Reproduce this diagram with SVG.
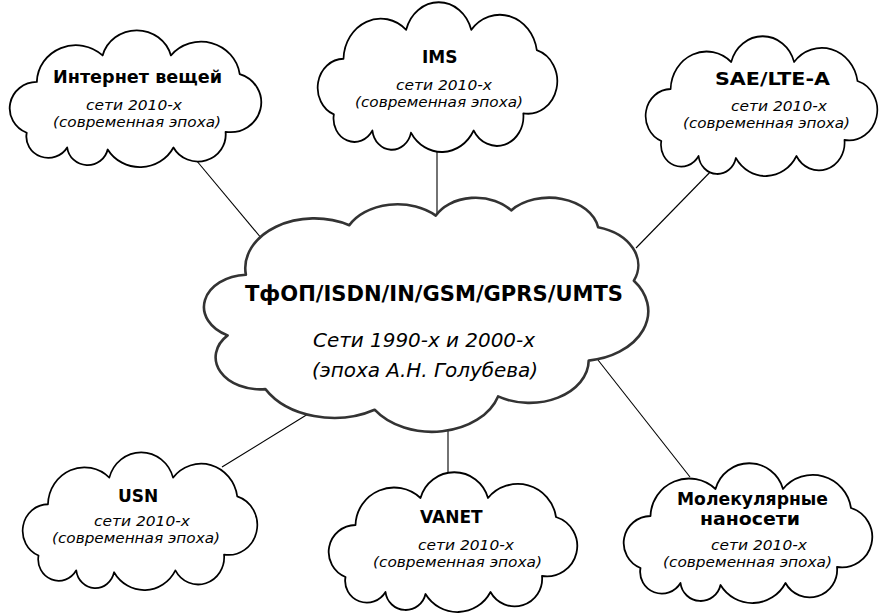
<svg xmlns="http://www.w3.org/2000/svg" xmlns:xlink="http://www.w3.org/1999/xlink" width="879" height="614" viewBox="0 0 879 614">
<style>
.bg{fill:#fff}
.cl{fill:#fff;stroke:#000;stroke-width:1.8;stroke-linejoin:round}
.big{fill:#fff;stroke:#333;stroke-width:2.6;stroke-linejoin:round}
.conn line{stroke:#000;stroke-width:1.1}
.t{font-family:"DejaVu Sans",Verdana,sans-serif;font-weight:bold;font-size:17px;fill:#000}
.s{font-family:"DejaVu Sans",Verdana,sans-serif;font-style:italic;font-size:13.5px;fill:#000}
.tb{font-family:"DejaVu Sans",Verdana,sans-serif;font-weight:bold;font-size:21px;fill:#000}
.sb{font-family:"DejaVu Sans",Verdana,sans-serif;font-style:italic;font-size:19px;fill:#000}
</style>
<defs>
<path id="cloud" d="M17.5,105 A27,27 0 0 1 27.5,53 A38.6,38.6 0 0 1 92.5,26 A35,35 0 0 1 160,26 A38.6,38.6 0 0 1 228,45 A30.4,30.4 0 0 1 214,104 A27.5,27.5 0 0 1 162.5,120 A37.3,37.3 0 0 1 97.5,122 A20.3,20.3 0 0 1 57.5,120 A21.7,21.7 0 0 1 17.5,105 Z"/>
</defs>
<rect class="bg" x="0" y="0" width="879" height="614"/>
<g id="connectors" class="conn">
<line x1="196" y1="160" x2="262" y2="239"/>
<line x1="437" y1="145" x2="437" y2="216"/>
<line x1="716" y1="166" x2="636" y2="248"/>
<line x1="222" y1="467" x2="308" y2="414"/>
<line x1="448" y1="428" x2="448" y2="476"/>
<line x1="598" y1="360" x2="690" y2="477"/>
</g>
<g id="center">
<path class="big" d="M245.9,274.8 A69.08,49.77 0 0 1 349.3,225.2 A54.54,39.36 0 0 1 435.8,215.6 A44.64,32.2 0 0 1 511.2,210.4 A49.68,35.73 0 0 1 598.1,227.2 A54.54,39.41 0 0 1 633.9,280.7 A69.31,49.94 0 0 1 588.7,360.6 A59.18,42.61 0 0 1 498.1,396.4 A69.08,49.91 0 0 1 374.6,409.7 A78.99,57.12 0 0 1 265.4,389.1 A44.6,32.06 0 0 1 227.6,335.4 A44.47,32.2 0 0 1 245.9,274.8 Z"/>
<text class="tb" x="245" y="301" textLength="378" lengthAdjust="spacingAndGlyphs">ТфОП/ISDN/IN/GSM/GPRS/UMTS</text>
<text class="sb" x="313" y="347" textLength="222" lengthAdjust="spacingAndGlyphs">Сети 1990-х и 2000-х</text>
<text class="sb" x="312" y="377" textLength="226" lengthAdjust="spacingAndGlyphs">(эпоха А.Н. Голубева)</text>
</g>
<g id="iot">
<use xlink:href="#cloud" class="cl" transform="translate(9,30) scale(1.012,0.979)"/>
<text class="t" x="53" y="83" textLength="169" lengthAdjust="spacingAndGlyphs">Интернет вещей</text>
<text class="s" x="86" y="110" textLength="96" lengthAdjust="spacingAndGlyphs">сети 2010-х</text>
<text class="s" x="53" y="127" textLength="168" lengthAdjust="spacingAndGlyphs">(современная эпоха)</text>
</g>
<g id="ims">
<use xlink:href="#cloud" class="cl" transform="translate(317,2) scale(0.964,1.071)"/>
<text class="t" x="422" y="63">IMS</text>
<text class="s" x="396" y="90" textLength="96" lengthAdjust="spacingAndGlyphs">сети 2010-х</text>
<text class="s" x="355" y="107" textLength="168" lengthAdjust="spacingAndGlyphs">(современная эпоха)</text>
</g>
<g id="sae">
<use xlink:href="#cloud" class="cl" transform="translate(645,36) scale(0.932,1.0)"/>
<text class="t" x="715" y="85" textLength="115" lengthAdjust="spacingAndGlyphs">SAE/LTE-A</text>
<text class="s" x="731" y="111" textLength="96" lengthAdjust="spacingAndGlyphs">сети 2010-х</text>
<text class="s" x="683" y="128" textLength="167" lengthAdjust="spacingAndGlyphs">(современная эпоха)</text>
</g>
<g id="usn">
<use xlink:href="#cloud" class="cl" transform="translate(22,452) scale(0.944,0.986)"/>
<text class="t" x="118" y="502">USN</text>
<text class="s" x="94" y="526" textLength="96" lengthAdjust="spacingAndGlyphs">сети 2010-х</text>
<text class="s" x="52" y="543" textLength="168" lengthAdjust="spacingAndGlyphs">(современная эпоха)</text>
</g>
<g id="vanet">
<use xlink:href="#cloud" class="cl" transform="translate(328,472)"/>
<text class="t" x="420" y="523">VANET</text>
<text class="s" x="418" y="550" textLength="96" lengthAdjust="spacingAndGlyphs">сети 2010-х</text>
<text class="s" x="373" y="567" textLength="169" lengthAdjust="spacingAndGlyphs">(современная эпоха)</text>
</g>
<g id="nano">
<use xlink:href="#cloud" class="cl" transform="translate(623,463)"/>
<text class="t" x="677" y="505" textLength="151" lengthAdjust="spacingAndGlyphs">Молекулярные</text>
<text class="t" x="700" y="525" textLength="100" lengthAdjust="spacingAndGlyphs">наносети</text>
<text class="s" x="711" y="550" textLength="96" lengthAdjust="spacingAndGlyphs">сети 2010-х</text>
<text class="s" x="663" y="567" textLength="169" lengthAdjust="spacingAndGlyphs">(современная эпоха)</text>
</g>
</svg>
